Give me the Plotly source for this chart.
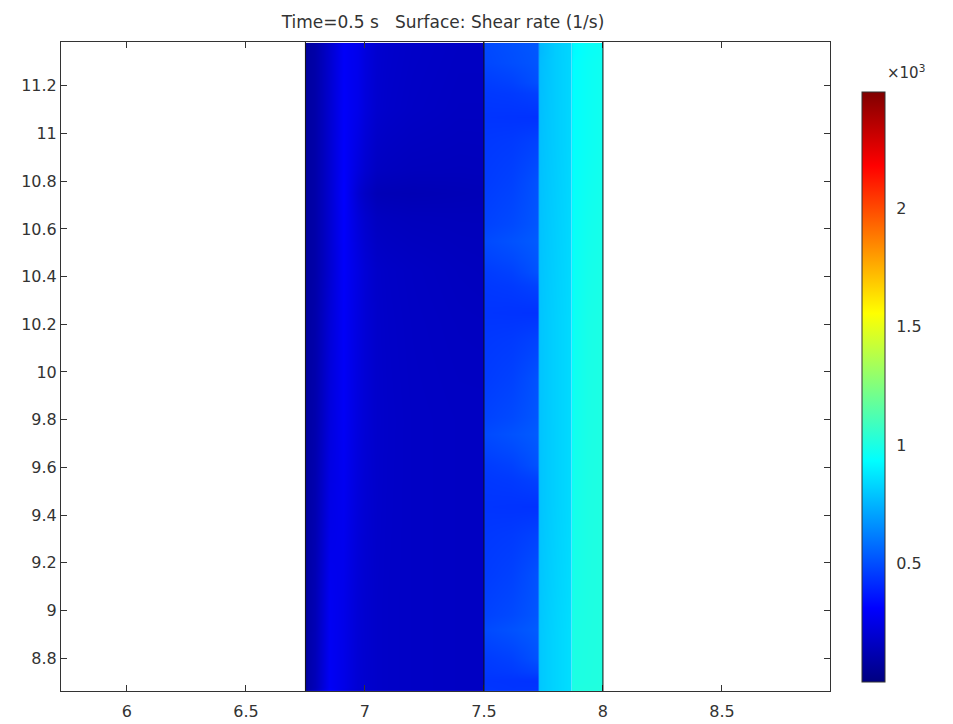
import plotly.graph_objects as go

# ---------------- data (shear rate, 1/s) ----------------
title_text = "Time=0.5 s   Surface: Shear rate (1/s)"
x_ticks = [6, 6.5, 7, 7.5, 8, 8.5]
cbar_vals = [500, 1000, 1500, 2000]
cbar_text = ["0.5", "1", "1.5", "2"]
c_min, c_max = 0, 2490
domain_bounds = [6.75, 7.5, 8.0]

# left domain (6.75 - 7.5)
left_x = [6.75, 6.76, 6.82, 6.88, 6.94, 7.0, 7.1, 7.3, 7.49, 7.5]
left_y = [8.66, 8.68, 9.4, 10.2, 10.65, 10.85, 11.36, 11.38]
left_z = [
    [60, 150, 300, 250, 200, 180, 170, 165, 165],
    [60, 130, 280, 260, 210, 180, 170, 165, 165],
    [60, 110, 230, 290, 230, 185, 170, 165, 165],
    [60, 100, 200, 300, 240, 180, 165, 155, 150],
    [60, 100, 200, 310, 200, 135, 130, 135, 140],
    [60, 100, 200, 300, 260, 190, 170, 160, 160],
    [60, 100, 190, 290, 270, 200, 180, 170, 170],
]

# right domain, first stripe (7.5 - 7.73) with zig-zag elements
s1_x = [7.5, 7.505, 7.725, 7.73]
s1_y = [8.66, 8.67, 8.74, 8.86, 8.98, 9.32, 9.55, 9.67, 9.81, 10.14, 10.36, 10.48, 10.62,
        10.97, 11.17, 11.26, 11.34, 11.38]
s1_z = [
    [450, 440, 450],
    [440, 435, 430],
    [440, 470, 555],
    [470, 510, 560],
    [440, 470, 555],
    [440, 435, 430],
    [440, 470, 555],
    [470, 510, 560],
    [440, 470, 555],
    [440, 435, 430],
    [440, 470, 555],
    [470, 510, 560],
    [440, 470, 555],
    [440, 435, 430],
    [445, 470, 540],
    [465, 500, 540],
    [470, 505, 545],
]

# right domain, second stripe (7.73 - 7.87)
s2_x = [7.73, 7.735, 7.865, 7.87]
s2_y = [8.66, 8.7, 9.1, 9.8, 10.6, 11.3, 11.38]
s2_z = [
    [770, 830, 880],
    [770, 830, 880],
    [760, 820, 870],
    [765, 820, 870],
    [755, 810, 865],
    [720, 810, 860],
]

# right domain, third stripe (7.87 - 8.0)
s3_x = [7.87, 7.875, 7.995, 8.0]
s3_y = [8.66, 8.7, 9.1, 9.8, 10.6, 11.3, 11.38]
s3_z = [
    [1000, 1010, 1020],
    [990, 1005, 1015],
    [960, 1000, 1015],
    [930, 990, 1010],
    [920, 960, 990],
    [900, 950, 975],
]

# ---------------- figure ----------------
jet = [
    [0.0, "rgb(0,0,128)"],
    [0.125, "rgb(0,0,255)"],
    [0.375, "rgb(0,255,255)"],
    [0.625, "rgb(255,255,0)"],
    [0.875, "rgb(255,0,0)"],
    [1.0, "rgb(128,0,0)"],
]

fig = go.Figure()
for xs, ys, zs in [(left_x, left_y, left_z), (s1_x, s1_y, s1_z),
                   (s2_x, s2_y, s2_z), (s3_x, s3_y, s3_z)]:
    fig.add_trace(go.Heatmap(x=xs, y=ys, z=zs, zsmooth="best",
                             coloraxis="coloraxis", hoverinfo="skip"))

for bx in domain_bounds:
    fig.add_shape(type="line", xref="x", yref="y domain", x0=bx, x1=bx, y0=0, y1=1,
                  line=dict(color="#111", width=1))

FS = 16
font_main = dict(family="DejaVu Sans", size=FS, color="#333")

fig.update_layout(
    width=953, height=724,
    margin=dict(l=61, r=123, t=42, b=33, autoexpand=False),
    paper_bgcolor="white", plot_bgcolor="white",
    font=font_main,
    showlegend=False,
    title=dict(text=title_text, x=443 / 953, xref="container", xanchor="center",
               y=1 - 22 / 724, yref="container", yanchor="middle",
               font=dict(family="DejaVu Sans", size=17, color="#333")),
    coloraxis=dict(
        colorscale=jet, cmin=c_min, cmax=c_max,
        colorbar=dict(
            x=(862 - 61) / 769, xanchor="left", xref="paper",
            y=1 - (387 - 42) / 649, yanchor="middle",
            len=590 / 649, lenmode="fraction", thickness=23,
            outlinewidth=1, outlinecolor="#333",
            tickvals=cbar_vals, ticktext=cbar_text,
            ticks="outside", ticklen=8, tickcolor="rgba(0,0,0,0)",
            tickfont=dict(family="DejaVu Sans", size=FS, color="#333"),
            xpad=0, ypad=0,
        ),
    ),
    xaxis=dict(range=[5.723, 8.954], tickvals=x_ticks, ticks="inside", ticklen=6,
               mirror="ticks", showline=True, linecolor="#333", linewidth=1,
               showgrid=False, zeroline=False, tickcolor="#333",
               tickfont=font_main, automargin=False, ticklabelstandoff=6),
    yaxis=dict(range=[8.662, 11.384], dtick=0.2, tick0=0, ticks="inside", ticklen=6,
               mirror="ticks", showline=True, linecolor="#333", linewidth=1,
               showgrid=False, zeroline=False, tickcolor="#333",
               tickfont=font_main, automargin=False),
)

fig.add_annotation(text="×10<sup>3</sup>", xref="paper", yref="paper",
                   x=(906 - 61) / 769, y=1 - (72 - 42) / 649, showarrow=False,
                   xanchor="center", yanchor="middle",
                   font=dict(family="DejaVu Sans", size=15, color="#333"))

fig.write_html("out.html")
